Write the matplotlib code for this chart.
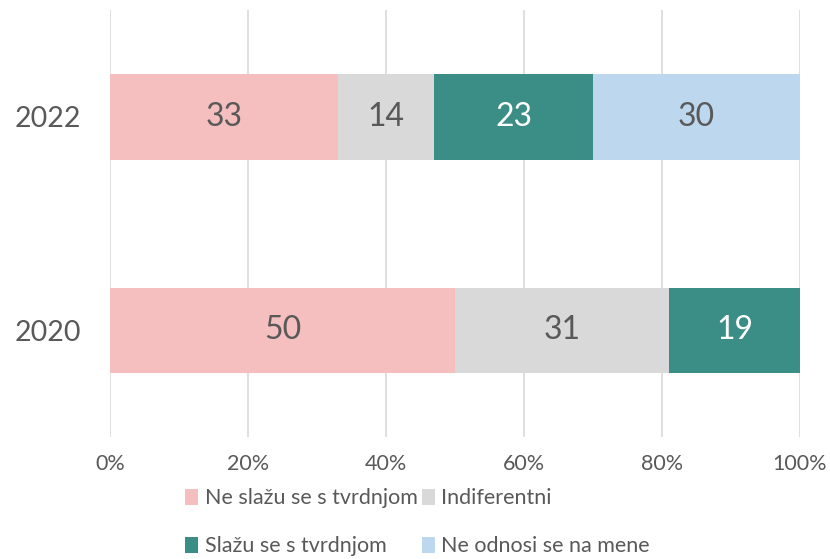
import matplotlib.pyplot as plt
import numpy as np

years = ['2020', '2022']
categories = ['Ne slažu se s tvrdnjom', 'Indiferentni', 'Slažu se s tvrdnjom', 'Ne odnosi se na mene']
values = {
    'Ne slažu se s tvrdnjom': [50, 33],
    'Indiferentni': [31, 14],
    'Slažu se s tvrdnjom': [19, 23],
    'Ne odnosi se na mene': [0, 30],
}
colors = ['#F5BEBF', '#D9D9D9', '#3A8E85', '#BDD7EE']
label_colors = ['#595959', '#595959', 'white', '#595959']

plt.rcParams['font.family'] = ['Lato', 'DejaVu Sans']

fig = plt.figure(figsize=(8.3, 5.59), dpi=100)
ax = fig.add_axes([0.1325, 0.218, 0.8314, 0.764])

y = np.arange(len(years))
left = np.zeros(len(years))
handles = {}
for cat, col, lc in zip(categories, colors, label_colors):
    vals = np.array(values[cat])
    bars = ax.barh(y, vals, left=left, height=0.4, color=col, label=cat, zorder=2)
    handles[cat] = bars
    for yi, v, l in zip(y, vals, left):
        if v > 0:
            ax.text(l + v / 2, yi, str(v), ha='center', va='center',
                    fontsize=23, color=lc, zorder=3)
    left += vals

ax.set_xlim(0, 100)
ax.set_ylim(-0.5, 1.5)
ax.set_xticks(np.arange(0, 101, 20))
ax.set_xticklabels([f'{t}%' for t in range(0, 101, 20)])
ax.set_yticks(y)
ax.set_yticklabels(years)
ax.tick_params(axis='x', labelsize=15.5, colors='#595959', length=0, pad=12)
ax.tick_params(axis='y', labelsize=20.5, colors='#595959', length=0, pad=21)
ax.grid(axis='x', color='#D9D9D9', linewidth=1.2, zorder=0)
for s in ax.spines.values():
    s.set_visible(False)

order = ['Ne slažu se s tvrdnjom', 'Slažu se s tvrdnjom', 'Indiferentni', 'Ne odnosi se na mene']
fig.legend([handles[c] for c in order], order, ncol=2, loc='lower left',
           bbox_to_anchor=(0.2, -0.03), frameon=False, fontsize=15.5,
           labelcolor='#595959', handlelength=0.6, handleheight=0.8,
           handletextpad=0.3, columnspacing=0.2, labelspacing=1.3)

fig.savefig('out.png', dpi=100)
